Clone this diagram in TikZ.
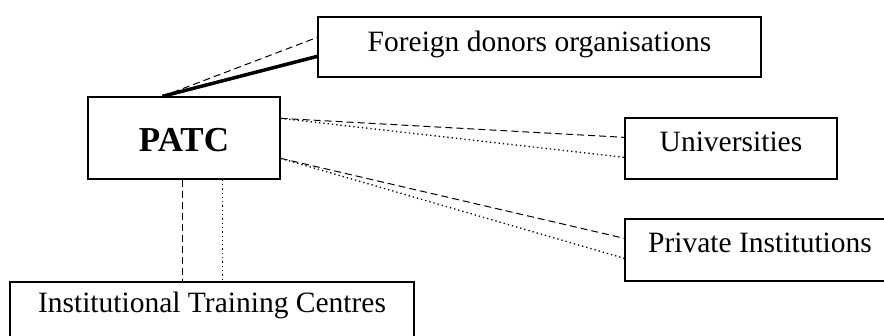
\documentclass[tikz,border=0pt]{standalone}
\usepackage{fontspec}
\setmainfont{Liberation Serif}
\begin{document}
\begin{tikzpicture}[x=1pt,y=-1pt,
  box/.style={draw,line width=1.3pt,rectangle,inner sep=0pt,align=center,
    font=\fontsize{29.5}{32}\selectfont},
  dashln/.style={line width=1pt,dash pattern=on 7pt off 4pt},
  dotln/.style={line width=1.3pt,dash pattern=on 1.3pt off 3pt},
  thickln/.style={line width=3.5pt}]
\useasboundingbox (0,0) rectangle (884,336);
\clip (0,0) rectangle (884,336);
% boxes: text height = baseline - top, text depth = bottom - baseline
\node[box,minimum width=443pt,text height=35pt,text depth=25pt] (fdo) at (539.5,47) {Foreign donors organisations};
\node[box,minimum width=192pt,text height=55pt,text depth=27pt,font=\fontsize{35}{38}\selectfont\bfseries] (patc) at (184,138) {PATC};
\node[box,minimum width=212pt,text height=34pt,text depth=27pt] (uni) at (731,148.5) {Universities};
\node[box,minimum width=270pt,text height=34pt,text depth=28pt] (pri) at (760,250) {Private Institutions};
\node[box,minimum width=404pt,text height=31pt,text depth=33pt] (itc) at (212,314) {Institutional Training Centres};
% anchor points
\coordinate (pt) at ([xshift=75pt]patc.north west);
\coordinate (pr1) at ([yshift=-22pt]patc.north east);
\coordinate (pr2) at ([yshift=-62pt]patc.north east);
\coordinate (pb1) at ([xshift=95pt]patc.south west);
\coordinate (pb2) at ([xshift=135pt]patc.south west);
\coordinate (fl1) at ([yshift=-21pt]fdo.north west);
\coordinate (fl2) at ([yshift=-40pt]fdo.north west);
\coordinate (ul1) at ([yshift=-20pt]uni.north west);
\coordinate (ul2) at ([yshift=-40pt]uni.north west);
\coordinate (rl1) at ([yshift=-20pt]pri.north west);
\coordinate (rl2) at ([yshift=-40pt]pri.north west);
\coordinate (it1) at (pb1 |- itc.north);
\coordinate (it2) at (pb2 |- itc.north);
% connectors
\draw[thickln] (pt) -- (fl2);
\draw[dashln] (pt) -- (fl1);
\draw[dashln] (pr1) -- (ul1);
\draw[dotln] (pr1) -- (ul2);
\draw[dashln] (pr2) -- (rl1);
\draw[dotln] (pr2) -- (rl2);
\draw[dashln] (pb1) -- (it1);
\draw[dotln] (pb2) -- (it2);
\end{tikzpicture}
\end{document}
